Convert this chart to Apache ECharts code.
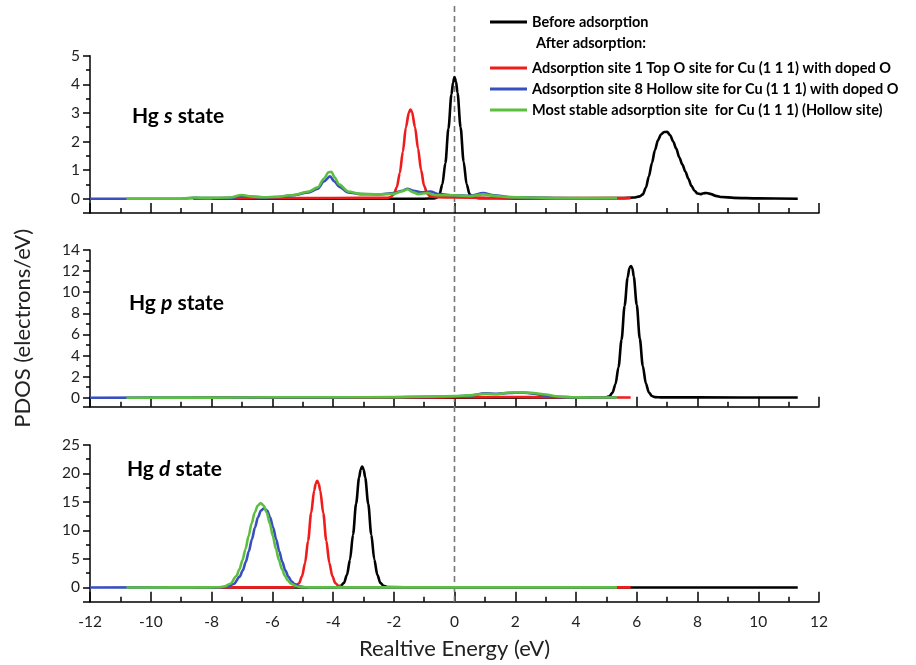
<!DOCTYPE html>
<html><head><meta charset="utf-8">
<script src="https://cdn.jsdelivr.net/npm/echarts@6/dist/echarts.min.js"></script>
<style>html,body{margin:0;padding:0;background:#fff}#c{width:916px;height:665px}</style>
</head><body><div id="c"></div>
<script>
// ---- data (energy eV, PDOS) ----
const seriesNames = ['Before adsorption',
  'Adsorption site 1 Top O site for Cu (1 1 1) with doped O',
  'Adsorption site 8 Hollow site for Cu (1 1 1) with doped O',
  'Most stable adsorption site  for Cu (1 1 1) (Hollow site)'];
const panelLabels = ['s', 'p', 'd'];
const xTicks = [-12, 12, 2];

// Hg s state
const sBlack = [[-8,0],[-1,0],[-0.7,0.01],[-0.6,0.03],[-0.5,0.12],[-0.4,0.5],[-0.3,1.25],[-0.2,2.45],[-0.1,3.65],[-0.05,4.05],[0,4.25],[0.05,4.1],[0.1,3.7],[0.2,2.5],[0.3,1.3],[0.4,0.5],[0.5,0.15],[0.6,0.05],[0.8,0.02],[2,0.01],[5.5,0.02],[5.9,0.04],[6.1,0.08],[6.2,0.15],[6.3,0.38],[6.4,0.78],[6.5,1.25],[6.6,1.7],[6.7,2.05],[6.8,2.25],[6.9,2.33],[7.0,2.34],[7.1,2.22],[7.2,2.0],[7.3,1.75],[7.4,1.45],[7.5,1.2],[7.6,0.95],[7.7,0.7],[7.8,0.45],[7.9,0.28],[8.0,0.18],[8.1,0.16],[8.2,0.19],[8.3,0.2],[8.45,0.16],[8.6,0.1],[8.8,0.06],[9.2,0.03],[10,0.01],[11.3,0]];
const sRed = [[-8.6,0],[-7.5,0.01],[-5,0.02],[-3,0.03],[-2.2,0.03],[-2.1,0.06],[-2.0,0.15],[-1.9,0.4],[-1.8,0.9],[-1.7,1.65],[-1.6,2.5],[-1.5,3.02],[-1.45,3.12],[-1.4,3.04],[-1.3,2.5],[-1.2,1.75],[-1.1,1.0],[-1.0,0.45],[-0.9,0.18],[-0.8,0.08],[-0.6,0.05],[0,0.04],[1,0.03],[3,0.02],[5.8,0.02]];
const sBlue = [[-12,0],[-9,0],[-8.5,0.03],[-8.2,0.02],[-7.3,0.03],[-7.0,0.1],[-6.7,0.07],[-6.3,0.04],[-5.8,0.06],[-5.3,0.12],[-4.8,0.22],[-4.5,0.35],[-4.3,0.6],[-4.1,0.78],[-3.95,0.6],[-3.8,0.42],[-3.5,0.22],[-3.1,0.16],[-2.5,0.15],[-2.0,0.2],[-1.7,0.28],[-1.55,0.35],[-1.35,0.28],[-1.1,0.22],[-0.8,0.25],[-0.5,0.16],[0,0.12],[0.5,0.1],[0.95,0.2],[1.3,0.12],[1.8,0.06],[2.5,0.04],[3.5,0.02],[5.3,0.01]];
const sGreen = [[-10.8,0],[-9,0],[-8.6,0.04],[-8.2,0.03],[-7.4,0.04],[-7.0,0.13],[-6.7,0.08],[-6.3,0.05],[-5.8,0.07],[-5.3,0.13],[-4.8,0.25],[-4.5,0.4],[-4.3,0.7],[-4.15,0.92],[-4.05,0.94],[-3.95,0.75],[-3.8,0.5],[-3.5,0.25],[-3.1,0.17],[-2.5,0.15],[-2.0,0.17],[-1.75,0.25],[-1.55,0.33],[-1.35,0.22],[-1.2,0.16],[-0.9,0.2],[-0.6,0.12],[0,0.12],[0.5,0.09],[0.95,0.15],[1.3,0.1],[1.8,0.05],[2.5,0.04],[3.5,0.02],[5.35,0.02]];

// Hg p state
const pBlack = [[-8,0],[4.8,0.02],[5.0,0.05],[5.1,0.14],[5.2,0.47],[5.3,1.28],[5.4,2.9],[5.5,5.5],[5.6,8.7],[5.7,11.4],[5.76,12.3],[5.81,12.48],[5.86,12.25],[5.9,11.5],[6.0,8.8],[6.1,5.6],[6.2,3.0],[6.3,1.35],[6.4,0.5],[6.5,0.16],[6.6,0.06],[6.8,0.03],[8,0.03],[11.3,0.02]];
const pRed = [[-8.6,0],[-3,0.01],[-1,0.02],[0,0.05],[1,0.06],[2,0.07],[3,0.05],[4,0.03],[5.8,0.02]];
const pBlue = [[-12,0],[-8,0.01],[-4,0.03],[-2,0.05],[-1,0.08],[0,0.12],[0.5,0.2],[1,0.42],[1.4,0.38],[1.8,0.45],[2.2,0.5],[2.6,0.38],[3.0,0.2],[3.4,0.08],[4,0.03],[5.3,0.02]];
const pGreen = [[-10.8,0],[-8,0.01],[-6,0.04],[-4,0.04],[-2,0.06],[-1,0.1],[0,0.15],[0.5,0.22],[1,0.38],[1.4,0.33],[1.8,0.5],[2.2,0.52],[2.6,0.45],[3.0,0.3],[3.4,0.12],[3.8,0.04],[4.5,0.02],[5.35,0.02]];

// Hg d state
const dBlack = [[-8,0],[-3.9,0.02],[-3.74,0.3],[-3.64,0.8],[-3.54,2.2],[-3.44,4.9],[-3.34,9.3],[-3.24,14.7],[-3.14,19.3],[-3.09,20.7],[-3.04,21.2],[-2.99,20.7],[-2.94,19.3],[-2.84,14.7],[-2.74,9.3],[-2.64,4.9],[-2.54,2.2],[-2.44,0.8],[-2.34,0.3],[-2.2,0.05],[-1,0],[11.3,0]];
const dRed = [[-8.6,0],[-5.5,0.02],[-5.3,0.05],[-5.22,0.3],[-5.12,0.75],[-5.02,1.95],[-4.92,4.3],[-4.82,8.2],[-4.72,13.0],[-4.62,17.0],[-4.57,18.2],[-4.52,18.7],[-4.47,18.2],[-4.42,17.0],[-4.32,13.0],[-4.22,8.2],[-4.12,4.3],[-4.02,1.95],[-3.92,0.75],[-3.82,0.3],[-3.7,0.05],[-3.5,0.02],[5.8,0.02]];
const dBlue = [[-12,0],[-8,0.01],[-7.7,0.03],[-7.47,0.15],[-7.27,0.6],[-7.07,1.9],[-6.97,3.0],[-6.87,4.5],[-6.77,6.35],[-6.67,8.45],[-6.57,10.5],[-6.47,12.3],[-6.37,13.5],[-6.27,13.9],[-6.17,13.5],[-6.07,12.3],[-5.97,10.5],[-5.87,8.45],[-5.77,6.35],[-5.67,4.5],[-5.57,3.0],[-5.47,1.9],[-5.37,1.1],[-5.27,0.6],[-5.07,0.15],[-4.87,0.03],[-4.5,0.01],[5.3,0]];
const dGreen = [[-10.8,0],[-8,0.02],[-7.8,0.03],[-7.58,0.16],[-7.38,0.65],[-7.18,2.0],[-7.08,3.2],[-6.98,4.8],[-6.88,6.75],[-6.78,9.0],[-6.68,11.2],[-6.58,13.1],[-6.48,14.35],[-6.38,14.8],[-6.28,14.35],[-6.18,13.1],[-6.08,11.2],[-5.98,9.0],[-5.88,6.75],[-5.78,4.8],[-5.68,3.2],[-5.58,2.0],[-5.48,1.17],[-5.38,0.65],[-5.18,0.16],[-4.98,0.03],[-4.8,0.02],[5.35,0.02]];

// y-axis ranges and ticks per panel
const yMin = [-0.5, -0.85, -2.5];
const yMax = [5, 14, 25];
const yMajor = [[0,1,2,3,4,5],[0,2,4,6,8,10,12,14],[0,5,10,15,20,25]];
const yMinor = [[0.5,1.5,2.5,3.5,4.5],[1,3,5,7,9,11,13],[2.5,7.5,12.5,17.5,22.5]];
const fermiLine = [[0,0],[0,1]];

const panelData = [[sBlack,sRed,sBlue,sGreen],[pBlack,pRed,pBlue,pGreen],[dBlack,dRed,dBlue,dGreen]];
const colors = ['#000000','#f01c1c','#3a4fbf','#5cbf40'];
const FONT = 'Lato';

const grids = [
  {left:90, right:97, top:55.7, bottom:452},
  {left:90, right:97, top:250, bottom:258.3},
  {left:90, right:97, top:445, bottom:63.3},
  {left:90, right:97, top:5, bottom:63}
];

const xAxes = [0,1,2].map(i => ({
  gridIndex:i, type:'value', min:xTicks[0], max:xTicks[1], interval:xTicks[2],
  axisLine:{onZero:false, lineStyle:{color:'#000', width:1.5}},
  axisTick:{inside:true, length:10, lineStyle:{color:'#000', width:1.5}},
  minorTick:{show:true, splitNumber:2, length:5, lineStyle:{color:'#000', width:1.5}},
  splitLine:{show:false}, minorSplitLine:{show:false},
  axisLabel:{show:i===2, color:'#222', fontSize:15.5, fontFamily:FONT, margin:12},
  name: i===2 ? 'Realtive Energy (eV)' : '', nameLocation:'middle', nameGap:36,
  nameTextStyle:{fontSize:22, fontFamily:FONT, color:'#222'}
}));
xAxes.push({gridIndex:3, type:'value', min:xTicks[0], max:xTicks[1], show:false});

const yAxes = [0,1,2].map(i => ({
  gridIndex:i, type:'value', min:yMin[i], max:yMax[i],
  axisLine:{show:true, onZero:false, lineStyle:{color:'#000', width:1.5}},
  axisTick:{show:true, inside:false, length:7, lineStyle:{color:'#000', width:1.5}, customValues:[yMin[i]].concat(yMajor[i])},
  axisLabel:{customValues:yMajor[i], color:'#222', fontSize:15.5, fontFamily:FONT, margin:10},
  splitLine:{show:false},
  name: i===1 ? 'PDOS (electrons/eV)' : '', nameLocation:'middle', nameGap:56,
  nameTextStyle:{fontSize:22, fontFamily:FONT, color:'#222'}
}));
yAxes.push({gridIndex:3, type:'value', min:0, max:1, show:false});
[0,1,2].forEach(i => yAxes.push({
  gridIndex:i, type:'value', min:yMin[i], max:yMax[i], position:'left',
  axisLine:{show:false, onZero:false},
  axisTick:{show:true, inside:false, length:4, lineStyle:{color:'#000', width:1.5}, customValues:yMinor[i]},
  axisLabel:{show:false}, splitLine:{show:false}
}));

const series = [{
  type:'line', xAxisIndex:3, yAxisIndex:3, data:fermiLine, symbol:'none', silent:true,
  lineStyle:{color:'#777', width:1.6, type:[6,4]}, z:1
}];
panelData.forEach((arr, i) => {
  arr.forEach((d, k) => {
    series.push({
      name:seriesNames[k], type:'line', xAxisIndex:i, yAxisIndex:i, data:d,
      symbol:'none', smooth:0.3, smoothMonotone:'x', color:colors[k],
      lineStyle:{color:colors[k], width:2.6}, z:2+k, animation:false
    });
  });
});

const richLabel = (c) => ({
  text:'{a|Hg }{b|' + c + '}{a| state}', padding:0,
  textStyle:{rich:{
    a:{fontSize:21, fontWeight:'bold', fontFamily:FONT, color:'#000'},
    b:{fontSize:21, fontWeight:'bold', fontStyle:'italic', fontFamily:FONT, color:'#000'}
  }}
});
const titles = [
  Object.assign(richLabel(panelLabels[0]), {left:132, top:106}),
  Object.assign(richLabel(panelLabels[1]), {left:129, top:293}),
  Object.assign(richLabel(panelLabels[2]), {left:127, top:459}),
  {text:'After adsorption:', left:536, top:36, padding:0,
   textStyle:{fontSize:14.5, fontWeight:'bold', fontFamily:FONT, color:'#000'}}
];

const legendText = {fontSize:14.5, fontWeight:'bold', fontFamily:FONT, color:'#000', lineHeight:16};
const option = {
  animation:false,
  backgroundColor:'#fff',
  title:titles,
  legend:[
    {data:[seriesNames[0]], left:490, top:14, orient:'vertical', icon:'rect', itemWidth:37, itemHeight:3, padding:0, itemGap:6, textStyle:legendText, selectedMode:false},
    {data:seriesNames.slice(1), left:490, top:60, orient:'vertical', icon:'rect', itemWidth:37, itemHeight:3, padding:0, itemGap:5, textStyle:legendText, selectedMode:false}
  ],
  grid:grids,
  xAxis:xAxes,
  yAxis:yAxes,
  series:series
};
const chart = echarts.init(document.getElementById('c'), null, {renderer:'canvas'});
chart.setOption(option);
</script></body></html>
